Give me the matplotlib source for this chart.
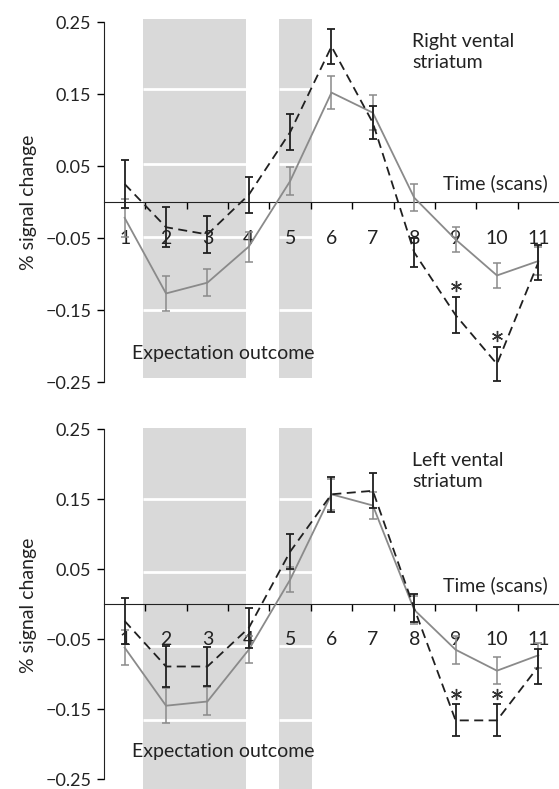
import numpy as np
import matplotlib
matplotlib.use("Agg")
import matplotlib.pyplot as plt
from matplotlib.patches import Rectangle

plt.rcParams['font.family'] = ['Lato', 'DejaVu Sans']

scans = np.arange(1, 12)
scan_labels = ['1', '2', '3', '4', '5', '6', '7', '8', '9', '10', '11']

# right ventral striatum
right_dash = [0.025, -0.035, -0.045, 0.01, 0.097, 0.216, 0.11, -0.07, -0.157, -0.225, -0.084]
right_dash_err = [0.033, 0.028, 0.026, 0.025, 0.025, 0.024, 0.023, 0.02, 0.025, 0.024, 0.024]
right_solid = [-0.022, -0.127, -0.112, -0.062, 0.029, 0.152, 0.124, 0.006, -0.052, -0.102, -0.082]
right_solid_err = [0.026, 0.024, 0.019, 0.021, 0.019, 0.023, 0.024, 0.019, 0.018, 0.018, 0.02]
right_stars = [9, 10]

# left ventral striatum
left_dash = [-0.024, -0.089, -0.089, -0.034, 0.075, 0.157, 0.162, -0.006, -0.166, -0.166, -0.089]
left_dash_err = [0.033, 0.029, 0.028, 0.028, 0.025, 0.025, 0.025, 0.02, 0.023, 0.023, 0.025]
left_solid = [-0.062, -0.145, -0.139, -0.065, 0.035, 0.157, 0.141, -0.008, -0.065, -0.095, -0.073]
left_solid_err = [0.025, 0.025, 0.02, 0.019, 0.018, 0.022, 0.019, 0.02, 0.02, 0.019, 0.018]
left_stars = [9, 10]

yticks = [0.25, 0.15, 0.05, -0.05, -0.15, -0.25]
ytick_labels = ['0.25', '0.15', '0.05', '\u22120.05', '\u22120.15', '\u22120.25']

bands = [(1.45, 3.93), (4.73, 5.53)]

fig = plt.figure(figsize=(5.59, 7.89), dpi=100)
ax1 = fig.add_axes([0.186, 0.5067, 0.814, 0.4745])
ax2 = fig.add_axes([0.186, 0.0, 0.814, 0.4649])

panels = [
    (ax1, right_dash, right_dash_err, right_solid, right_solid_err, right_stars,
     'Right vental\nstriatum', (-0.26, 0.26), (0.254, -0.244), [0.157, 0.053, -0.049, -0.15], 0.235),
    (ax2, left_dash, left_dash_err, left_solid, left_solid_err, left_stars,
     'Left vental\nstriatum', (-0.264, 0.26), (0.251, -0.264), [0.15, 0.046, -0.06, -0.166], 0.217),
]

grey = '#8a8a8a'
dark = '#202020'

for ax, d, de, s, se, stars, title, ylim, bspan, wlines, ty in panels:
    ax.set_xlim(0.5, 11.5)
    ax.set_ylim(*ylim)
    for x0, x1 in bands:
        ax.add_patch(Rectangle((x0, bspan[1]), x1 - x0, bspan[0] - bspan[1],
                               facecolor='#d9d9d9', edgecolor='none', zorder=0))
        ax.hlines(wlines, x0, x1, color='white', lw=2, zorder=1)

    ax.errorbar(scans, s, yerr=se, color=grey, ecolor=grey, lw=1.3, elinewidth=1.1,
                capsize=3, capthick=1.1, zorder=3)
    ax.errorbar(scans, d, yerr=de, color=dark, ecolor=dark, lw=1.3, elinewidth=1.3,
                capsize=3, capthick=1.3, ls=(0, (5, 3)), zorder=4)

    # significance asterisks above the dashed error bars
    sx = np.array(stars)
    sy = np.array([d[x - 1] + de[x - 1] for x in stars]) + 0.015
    ax.plot(sx, sy, ls='none', marker=(6, 2, 0), ms=8, mew=1, color='#333333', zorder=5)

    for x, lab in zip(scans, scan_labels):
        ax.text(x, -0.05, lab, ha='center', va='center', fontsize=14, color='#222222', zorder=2)

    ax.text(7.95, ty, title, ha='left', va='top', fontsize=14, linespacing=1.3, color='#222222')
    ax.text(11.23, 0.018, 'Time (scans)', ha='right', va='baseline', fontsize=14, color='#222222')
    ax.text(1.18, -0.218, 'Expectation outcome', ha='left', va='baseline', fontsize=14, color='#222222')

    ax.spines['top'].set_visible(False)
    ax.spines['right'].set_visible(False)
    ax.spines['bottom'].set_position(('data', 0))
    ax.spines['left'].set_bounds(-0.25, 0.25)
    ax.spines['left'].set_color('#222222')
    ax.spines['bottom'].set_color('#222222')
    ax.set_yticks(yticks)
    ax.set_yticklabels(ytick_labels, fontsize=13, color='#222222')
    ax.tick_params(axis='y', length=5, width=1, pad=4)
    ax.set_xticks(np.arange(1.5, 11, 1))
    ax.set_xticklabels([])
    ax.tick_params(axis='x', length=5, width=1, direction='out')
    ax.set_ylabel('% signal change', fontsize=14, color='#222222')
    ax.yaxis.set_label_coords(-0.147, 0.5)
    ax.patch.set_visible(False)

fig.savefig('out.png', dpi=100)
